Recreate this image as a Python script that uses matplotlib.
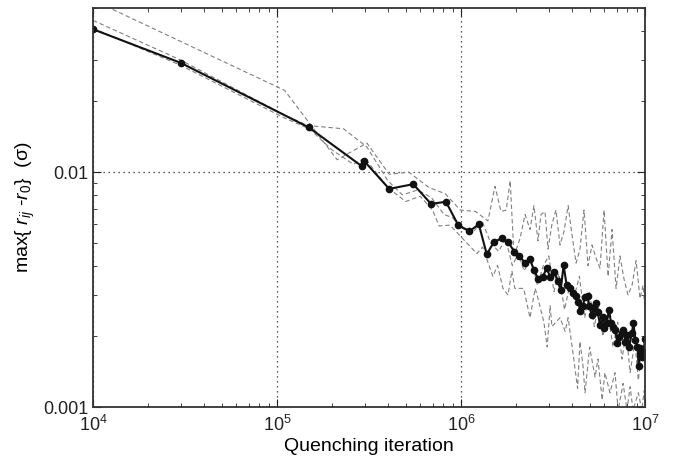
import numpy as np
import matplotlib
matplotlib.use('Agg')
import matplotlib.pyplot as plt
from matplotlib.ticker import LogLocator, NullFormatter

plt.rcParams['font.family'] = ['Liberation Sans', 'DejaVu Sans']
plt.rcParams['mathtext.fontset'] = 'custom'
plt.rcParams['mathtext.rm'] = 'Liberation Sans'
plt.rcParams['mathtext.it'] = 'Liberation Sans:italic'

# averaged run (solid, with markers)
iter_avg = [1.0e4, 3.0e4, 1.49e5, 2.89e5, 2.98e5, 4.07e5, 5.5e5, 6.87e5, 8.28e5, 9.66e5,
            1.11e6, 1.25e6, 1.38e6, 1.51e6, 1.66e6, 1.81e6, 1.95e6, 2.07e6, 2.23e6, 2.37e6,
            2.49e6, 2.63e6, 2.78e6, 2.92e6, 3.05e6, 3.20e6, 3.35e6, 3.48e6, 3.61e6, 3.75e6,
            3.91e6, 4.04e6, 4.20e6, 4.34e6, 4.44e6, 4.59e6, 4.72e6, 4.88e6, 4.98e6, 5.13e6,
            5.28e6, 5.42e6, 5.53e6, 5.69e6, 5.89e6, 6.01e6, 6.19e6, 6.37e6, 6.53e6, 6.72e6,
            6.87e6, 7.07e6, 7.26e6, 7.47e6, 7.63e6, 7.82e6, 8.02e6, 8.22e6, 8.47e6, 8.65e6,
            8.87e6, 9.10e6, 9.22e6, 9.42e6, 9.61e6, 9.80e6, 1.0e7]
dev_avg = [0.0406, 0.0292, 0.0155, 0.0106, 0.01114, 0.00849, 0.00889, 0.00733, 0.00748, 0.00595,
           0.00561, 0.00599, 0.00447, 0.00505, 0.00522, 0.00502, 0.00458, 0.00440, 0.00411, 0.00425,
           0.00383, 0.00351, 0.00359, 0.00389, 0.00359, 0.00377, 0.00344, 0.00315, 0.00401, 0.00330,
           0.00320, 0.00306, 0.00298, 0.00281, 0.00256, 0.00269, 0.00294, 0.00296, 0.00269, 0.00246,
           0.00263, 0.00276, 0.00255, 0.00223, 0.00242, 0.00216, 0.00227, 0.00260, 0.00229, 0.00220,
           0.00213, 0.00188, 0.00199, 0.00206, 0.00213, 0.00190, 0.00202, 0.00181, 0.00206, 0.00227,
           0.00193, 0.00181, 0.00150, 0.00178, 0.00164, 0.00172, 0.00194]

# individual runs (dashed grey)
iter_run1 = [1.0e4, 1.10e5, 2.12e5, 3.08e5, 4.07e5, 5.2e5, 6.7e5, 8.2e5, 9.9e5, 1.2e6, 1.4e6,
             1.53e6, 1.65e6, 1.76e6, 1.85e6, 1.94e6, 2.09e6, 2.23e6, 2.37e6, 2.49e6, 2.62e6,
             2.72e6, 2.86e6, 2.97e6, 3.12e6, 3.28e6, 3.45e6, 3.63e6, 3.82e6, 4.01e6, 4.22e6,
             4.43e6, 4.66e6, 4.90e6, 5.15e6, 5.42e6, 5.69e6, 5.99e6, 6.30e6, 6.62e6, 6.96e6,
             7.31e6, 7.69e6, 8.08e6, 8.50e6, 8.94e6, 9.39e6, 9.75e6, 1.0e7]
dev_run1 = [0.054, 0.0223, 0.0113, 0.0133, 0.0098, 0.0100, 0.0086, 0.0081, 0.0069, 0.0068, 0.0062,
            0.0087, 0.0068, 0.0069, 0.0092, 0.0044, 0.0052, 0.0066, 0.0057, 0.0072, 0.0051,
            0.0066, 0.0068, 0.0047, 0.0060, 0.0069, 0.0049, 0.0056, 0.0072, 0.0054, 0.0041,
            0.0047, 0.0069, 0.0040, 0.0049, 0.0043, 0.0039, 0.0069, 0.0036, 0.0057, 0.0032,
            0.0044, 0.0035, 0.0030, 0.0033, 0.0042, 0.0029, 0.0033, 0.0026]

iter_run2 = [1.0e4, 3.0e4, 1.10e5, 1.47e5, 2.3e5, 3.08e5, 4.0e5, 4.8e5, 5.8e5, 6.9e5, 8.1e5,
             9.0e5, 1.0e6, 1.15e6, 1.3e6, 1.45e6, 1.6e6, 1.75e6, 1.9e6, 2.05e6, 2.2e6, 2.4e6,
             2.6e6, 2.8e6, 3.0e6, 3.2e6, 3.4e6, 3.65e6, 3.9e6, 4.1e6, 4.4e6, 4.7e6, 5.0e6,
             5.3e6, 5.6e6, 5.9e6, 6.3e6, 6.7e6, 7.1e6, 7.5e6, 7.9e6, 8.3e6, 8.8e6, 9.2e6,
             9.6e6, 1.0e7]
dev_run2 = [0.0443, 0.0300, 0.0175, 0.0158, 0.0153, 0.0128, 0.0092, 0.0080, 0.0084, 0.0078, 0.0066,
            0.0064, 0.0058, 0.0055, 0.0062, 0.0050, 0.0046, 0.0052, 0.0040, 0.0045, 0.0038, 0.0043,
            0.0033, 0.0040, 0.0044, 0.0031, 0.0037, 0.0026, 0.0033, 0.0029, 0.0036, 0.0024, 0.0031,
            0.0022, 0.0027, 0.0020, 0.0025, 0.0018, 0.0023, 0.0016, 0.0021, 0.0014, 0.0019, 0.0013,
            0.0018, 0.0015]

iter_run3 = [1.0e4, 3.0e4, 1.10e5, 1.5e5, 2.0e5, 2.6e5, 3.0e5, 4.0e5, 5.0e5, 6.0e5, 7.0e5,
             7.6e5, 8.71e5, 1.22e6, 1.31e6, 1.49e6, 1.58e6, 1.69e6, 1.80e6, 1.89e6, 1.96e6,
             2.09e6, 2.19e6, 2.37e6, 2.53e6, 2.62e6, 2.82e6, 2.94e6, 3.05e6, 3.12e6, 3.45e6,
             3.68e6, 3.82e6, 4.1e6, 4.3e6, 4.43e6, 4.6e6, 4.72e6, 5.0e6, 5.35e6, 5.55e6,
             5.85e6, 6.05e6, 6.45e6, 6.87e6, 7.14e6, 7.6e6, 7.98e6, 8.3e6, 8.6e6, 9.2e6,
             9.6e6, 9.9e6]
dev_run3 = [0.0410, 0.0285, 0.0170, 0.0153, 0.0124, 0.0108, 0.0115, 0.0086, 0.0075, 0.0079, 0.0069,
            0.0059, 0.00595, 0.0045, 0.0048, 0.0036, 0.0040, 0.0032, 0.0030, 0.0038, 0.0032,
            0.0032, 0.0032, 0.0024, 0.0032, 0.0029, 0.0023, 0.0018, 0.0027, 0.0022, 0.0024,
            0.0021, 0.0024, 0.0016, 0.0012, 0.0019, 0.0015, 0.00115, 0.0018, 0.00134, 0.0016,
            0.00107, 0.0014, 0.00115, 0.0014, 0.00097, 0.00126, 0.00097, 0.00122, 0.00097, 0.00115,
            0.00097, 0.00118]

fig = plt.figure(figsize=(6.75, 4.61), dpi=100)
ax = fig.add_axes([0.1378, 0.1171, 0.8178, 0.8655])

for xs, ys in [(iter_run1, dev_run1), (iter_run2, dev_run2), (iter_run3, dev_run3)]:
    ax.plot(xs, ys, color='#808080', lw=0.8, dashes=(4, 2.5))

ax.plot(iter_avg, dev_avg, color='#111111', lw=1.5, marker='o', ms=4.5)

ax.set_xscale('log')
ax.set_yscale('log')
ax.set_xlim(1e4, 1e7)
ax.set_ylim(0.001, 0.05)

ax.set_yticks([0.001, 0.01])
ax.set_yticklabels(['0.001', '0.01'])
ax.yaxis.set_minor_locator(LogLocator(base=10, subs=np.arange(2, 10)))
ax.yaxis.set_minor_formatter(NullFormatter())
ax.set_xticks([1e4, 1e5, 1e6, 1e7])
ax.xaxis.set_minor_locator(LogLocator(base=10, subs=np.arange(2, 10)))

ax.grid(True, which='major', color='#222222', linestyle=(0, (1, 3)), lw=0.9)
ax.tick_params(which='both', direction='in', top=True, right=True, labelsize=13, colors='#222222')
ax.tick_params(which='major', length=6)
ax.tick_params(which='minor', length=3)
ax.tick_params(axis='x', pad=6)
for s in ax.spines.values():
    s.set_linewidth(1.3)
    s.set_color('#333333')

ax.set_xlabel('Quenching iteration', fontsize=14, labelpad=2)
ax.set_ylabel(r'max{ $r_{ij}$ -$r_0$}  (σ)', fontsize=14, labelpad=4)

fig.savefig('out.png', dpi=100)
